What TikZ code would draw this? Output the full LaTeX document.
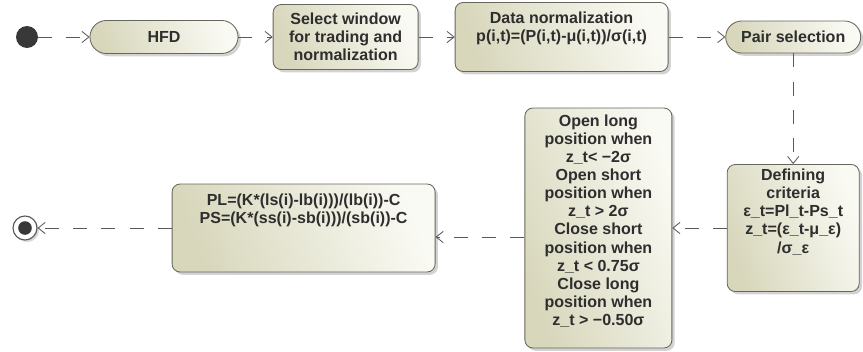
\documentclass[tikz,border=0pt]{standalone}
\usepackage{fontspec}
\setmainfont{Liberation Sans}
\usetikzlibrary{arrows.meta,shadows}
\definecolor{boxlight}{HTML}{FAFAF4}
\definecolor{boxdark}{HTML}{D8D7BC}
\definecolor{boxline}{HTML}{66665A}
\definecolor{inktext}{HTML}{2E2E2E}
\newcommand{\padlow}[1]{\rule[-#1]{0pt}{#1}}

\begin{document}
\begin{tikzpicture}[>={Straight Barb[length=5pt,width=8pt]},
    activity/.style={draw=boxline, line width=0.6pt, rounded corners=0.2cm,
        left color=boxdark, right color=boxlight, shading angle=110,
        drop shadow={shadow xshift=2pt, shadow yshift=-2pt, opacity=0.35},
        align=center, inner sep=2pt, text=inktext,
        font=\bfseries\fontsize{11.4}{12.9}\selectfont},
    flow/.style={->, draw=black!65, line width=0.6pt, dash pattern=on 10pt off 10pt}]
    \useasboundingbox (0, 0) rectangle (21.575, -8.775);

    % Start and end
    \node[circle, fill=black!78, minimum size=0.55cm, inner sep=0pt] (init) at (0.675, -0.925) {};
    \node[circle, draw=black!65, fill=white, line width=0.8pt, minimum size=0.6cm, inner sep=0pt,
        drop shadow={shadow xshift=1.5pt, shadow yshift=-1.5pt, opacity=0.3}] (final) at (0.625, -5.7) {};
    \node[circle, fill=black!78, minimum size=0.34cm, inner sep=0pt] (finaldot) at (final) {};

    % Activities
    \node[activity, rounded corners=0.41cm, minimum width=3.7cm, minimum height=0.825cm] (hfd) at (4.1, -0.925) {HFD};
    \node[activity, minimum width=3.625cm, minimum height=1.625cm] (select) at (8.64, -0.925)
        {Select window\\for trading and\\normalization};
    \node[activity, minimum width=5.325cm, minimum height=1.725cm] (norm) at (14.04, -0.925)
        {Data normalization\\p(i,t)=(P(i,t)-μ(i,t))/σ(i,t)\padlow{0.525cm}};
    \node[activity, rounded corners=0.4cm, minimum width=3.375cm, minimum height=0.8cm] (pair) at (19.83, -0.925) {Pair selection};
    \node[activity, minimum width=3.3cm, minimum height=3.175cm] (crit) at (19.83, -5.7)
        {Defining\\criteria\\ ε\_t=Pl\_t-Ps\_t\\z\_t=(ε\_t-μ\_ε)\\/σ\_ε\padlow{0.85cm}};
    \node[activity, minimum width=3.675cm, minimum height=6cm] (open) at (14.96, -5.7)
        {Open long\\position when\\z\_t< −2σ\\Open short\\position when\\z\_t > 2σ\\Close short\\position when\\z\_t < 0.75σ\\Close long\\position when\\z\_t > −0.50σ\padlow{0.4cm}};
    \node[activity, minimum width=6.575cm, minimum height=2.2cm] (pl) at (7.59, -5.7)
        {PL=(K*(ls(i)-lb(i)))/(lb(i))-C\\PS=(K*(ss(i)-sb(i)))/(sb(i))-C\padlow{0.95cm}};

    % Flows
    \draw[flow] (init) -- (hfd);
    \draw[flow] (hfd) -- (select);
    \draw[flow] (select) -- (norm);
    \draw[flow] (norm) -- (pair);
    \draw[flow] (pair) -- (crit);
    \draw[flow] (crit) -- (open);
    \draw[flow] ([yshift=-0.225cm]open.west) -- ([yshift=-0.225cm]pl.east);
    \draw[flow] (pl) -- (final);
\end{tikzpicture}
\end{document}
